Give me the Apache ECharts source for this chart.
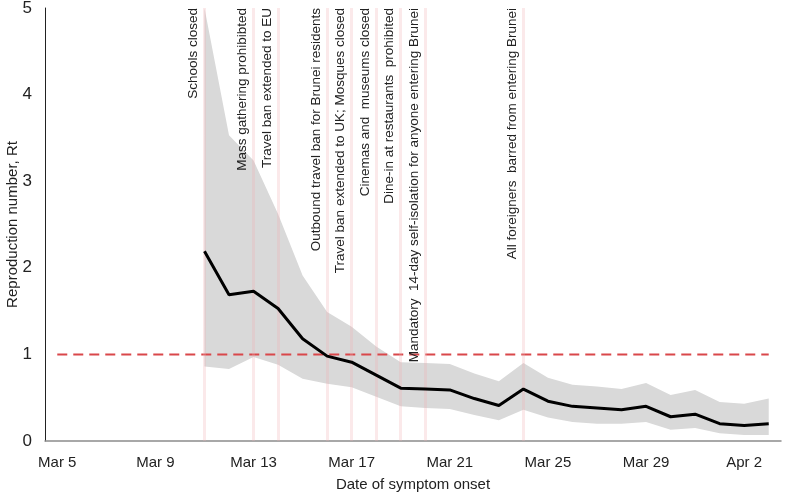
<!DOCTYPE html>
<html>
<head>
<meta charset="utf-8">
<script src="https://cdn.jsdelivr.net/npm/echarts@6/dist/echarts.min.js"></script>
<style>
  html, body { margin: 0; padding: 0; background: #fff; }
  #chart { width: 789px; height: 499px; }
</style>
</head>
<body>
<div id="chart"></div>
<script>
// days on the x axis
const dates = ['Mar 5','Mar 6','Mar 7','Mar 8','Mar 9','Mar 10','Mar 11','Mar 12','Mar 13','Mar 14',
  'Mar 15','Mar 16','Mar 17','Mar 18','Mar 19','Mar 20','Mar 21','Mar 22','Mar 23','Mar 24',
  'Mar 25','Mar 26','Mar 27','Mar 28','Mar 29','Mar 30','Mar 31','Apr 1','Apr 2','Apr 3']

// Rt estimates start on Mar 11
const rtStart = 6
const rtMean = [2.19,1.69,1.73,1.53,1.18,0.98,0.91,0.76,0.61,0.60,0.59,0.49,0.41,0.60,0.46,0.40,0.38,0.36,0.40,0.28,0.31,0.20,0.18,0.20]
const rtLow  = [0.86,0.83,0.97,0.88,0.72,0.66,0.62,0.51,0.40,0.38,0.37,0.30,0.24,0.36,0.27,0.22,0.20,0.20,0.22,0.13,0.15,0.09,0.07,0.07]
const rtHigh = [5.00,3.53,3.24,2.62,1.91,1.49,1.32,1.09,0.91,0.90,0.89,0.78,0.69,0.90,0.73,0.65,0.63,0.60,0.67,0.53,0.59,0.45,0.43,0.49]
const threshold = dates.map(() => 1)

const yTicks = [0, 1, 2, 3, 4, 5]

const events = [
  ['Mar 11', 'Schools closed'],
  ['Mar 13', 'Mass gathering prohibibted'],
  ['Mar 14', 'Travel ban extended to EU'],
  ['Mar 16', 'Outbound travel ban for Brunei residents'],
  ['Mar 17', 'Travel ban extended to UK; Mosques closed'],
  ['Mar 18', 'Cinemas and  museums closed'],
  ['Mar 19', 'Dine-in at restaurants  prohibited'],
  ['Mar 20', 'Mandatory  14-day self-isolation for anyone entering Brunei'],
  ['Mar 24', 'All foreigners  barred from entering Brunei']
]

function pad(arr){
  let out = []
  for(let i = 0; i < dates.length; i++){
    let j = i - rtStart
    out.push(j >= 0 && j < arr.length ? arr[j] : null)
  }
  return out
}

let lowSeries = pad(rtLow)
let bandSeries = pad(rtHigh.map((v, i) => +(v - rtLow[i]).toFixed(2)))
let meanSeries = pad(rtMean)

const font = '"Liberation Sans", Arial, sans-serif'

let chart = echarts.init(document.getElementById('chart'), null, {renderer: 'canvas'})
let option = {
  animation: false,
  grid: { left: 45, right: 8, top: 8, bottom: 58, outerBoundsMode: 'none', containLabel: false },
  xAxis: {
    type: 'category',
    data: dates,
    boundaryGap: true,
    name: 'Date of symptom onset',
    nameLocation: 'middle',
    nameGap: 36,
    nameTextStyle: { fontSize: 15, color: '#222', fontFamily: font },
    axisLine: { lineStyle: { color: '#8c8c8c', width: 1.5 } },
    axisTick: { show: false },
    axisLabel: { interval: 3, fontSize: 15, color: '#222', margin: 14, fontFamily: font },
    splitLine: { show: false }
  },
  yAxis: {
    type: 'value',
    min: yTicks[0],
    max: yTicks[yTicks.length - 1],
    interval: 1,
    name: 'Reproduction number, Rt',
    nameLocation: 'middle',
    nameGap: 25,
    nameMoveOverlap: false,
    nameTextStyle: { fontSize: 15, color: '#222', fontFamily: font },
    axisLine: { show: true, lineStyle: { color: '#222', width: 1 } },
    axisTick: { show: false },
    axisLabel: { fontSize: 17, color: '#222', margin: 13, fontFamily: font },
    splitLine: { show: false }
  },
  series: [
    {
      name: 'low',
      type: 'line',
      stack: 'ci',
      data: lowSeries,
      symbol: 'none',
      lineStyle: { width: 0 },
      areaStyle: { color: 'rgba(0,0,0,0)' },
      z: 1
    },
    {
      name: 'band',
      type: 'line',
      stack: 'ci',
      data: bandSeries,
      symbol: 'none',
      lineStyle: { width: 0 },
      areaStyle: { color: '#d9d9d9', opacity: 1 },
      z: 2
    },
    {
      name: 'threshold',
      type: 'line',
      data: threshold,
      symbol: 'none',
      lineStyle: { color: '#d9474a', width: 2, type: [10, 6] },
      z: 4,
      markLine: {
        silent: true,
        symbol: 'none',
        lineStyle: { color: 'rgba(240,175,180,0.28)', width: 3, type: 'solid' },
        label: {
          show: true,
          position: 'insideEndTop',
          distance: [0, 4],
          fontSize: 13.5,
          color: '#222',
          fontFamily: font,
          formatter: p => p.name
        },
        data: events.map(e => ({ xAxis: e[0], name: e[1] }))
      }
    },
    {
      name: 'Rt',
      type: 'line',
      data: meanSeries,
      symbol: 'none',
      lineStyle: { color: '#000', width: 3 },
      z: 5
    }
  ]
}
chart.setOption(option)
</script>
</body>
</html>
